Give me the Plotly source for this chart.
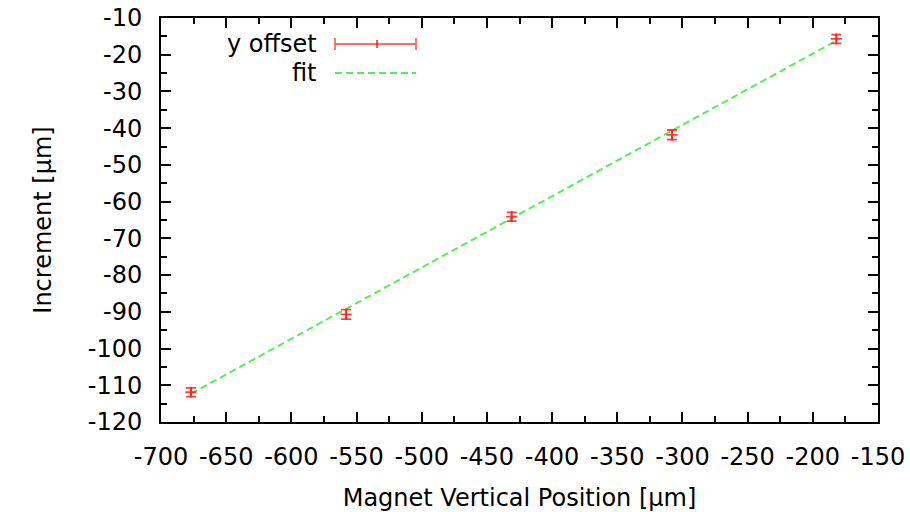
import plotly.graph_objects as go

# Data
x_pos = [-677, -558, -431, -308, -182]
y_inc = [-111.9, -90.7, -64.1, -41.8, -15.7]
y_err = [1.2, 1.3, 1.2, 1.3, 1.2]

fit_x = [-677, -182]
fit_y = [-112.3, -16.2]

x_ticks = [-700, -650, -600, -550, -500, -450, -400, -350, -300, -250, -200, -150]
y_ticks = [-120, -110, -100, -90, -80, -70, -60, -50, -40, -30, -20, -10]

RED = "rgba(255,30,30,0.85)"
GREEN = "#55ee55"
FONT = "DejaVu Sans"

fig = go.Figure()

fig.add_trace(go.Scatter(
    x=fit_x, y=fit_y, mode="lines",
    line=dict(color=GREEN, width=2, dash="7px,4px"),
    showlegend=False, hoverinfo="skip"))

fig.add_trace(go.Scatter(
    x=x_pos, y=y_inc, mode="markers",
    marker=dict(symbol="cross-thin", size=8, line=dict(color=RED, width=1.8), color=RED),
    error_y=dict(type="data", array=y_err, visible=True, color=RED, thickness=1.8, width=5),
    showlegend=False))

axis_common = dict(
    showgrid=False, zeroline=False, showline=True, linecolor="black", linewidth=2,
    mirror="ticks", ticks="inside", ticklen=10, tickwidth=1.5, tickcolor="black",
    tickfont=dict(family=FONT, size=24, color="black"), automargin=False,
)

fig.update_xaxes(
    range=[-700, -150], tickvals=x_ticks, ticktext=[str(v) for v in x_ticks],
    minor=dict(ticks="inside", ticklen=6, tickwidth=1.5, tickcolor="black", dtick=25, tick0=-700),
    title=dict(text="Magnet Vertical Position [µm]", font=dict(family=FONT, size=24, color="black"), standoff=20),
    ticklabelstandoff=12,
    **axis_common)
fig.update_yaxes(
    range=[-120, -10], tickvals=y_ticks, ticktext=[str(v) for v in y_ticks],
    minor=dict(ticks="inside", ticklen=6, tickwidth=1.5, tickcolor="black", dtick=5, tick0=-120),
    title=dict(text="Increment [µm]", font=dict(family=FONT, size=24, color="black"), standoff=29),
    ticklabelstandoff=12,
    **axis_common)

# Custom gnuplot-style key (in paper coordinates)
def px(xp):
    return (xp - 161) / (878 - 161)

def py(yp):
    return 1 - (yp - 18) / (422 - 18)

shapes = []
y1 = py(44)
shapes.append(dict(type="line", xref="paper", yref="paper", x0=px(335), x1=px(416), y0=y1, y1=y1,
                   line=dict(color="rgba(255,90,90,0.9)", width=1.8)))
for xe in (335, 416):
    shapes.append(dict(type="line", xref="paper", yref="paper", x0=px(xe), x1=px(xe), y0=py(38), y1=py(50),
                       line=dict(color="rgba(255,90,90,0.9)", width=1.8)))
shapes.append(dict(type="line", xref="paper", yref="paper", x0=px(377), x1=px(377), y0=py(40), y1=py(48),
                   line=dict(color=RED, width=1.8)))
y2 = py(73)
shapes.append(dict(type="line", xref="paper", yref="paper", x0=px(335), x1=px(416), y0=y2, y1=y2,
                   line=dict(color=GREEN, width=2, dash="7px,4px")))

annotations = [
    dict(text="y offset", xref="paper", yref="paper", x=px(319), y=py(44), xanchor="right", yanchor="middle",
         showarrow=False, font=dict(family=FONT, size=24, color="black")),
    dict(text="fit", xref="paper", yref="paper", x=px(319), y=py(73), xanchor="right", yanchor="middle",
         showarrow=False, font=dict(family=FONT, size=24, color="black")),
]

fig.update_layout(
    width=910, height=512,
    margin=dict(l=161, r=32, t=18, b=90),
    paper_bgcolor="white", plot_bgcolor="white",
    shapes=shapes, annotations=annotations,
    showlegend=False,
)

fig.write_html("out.html")
